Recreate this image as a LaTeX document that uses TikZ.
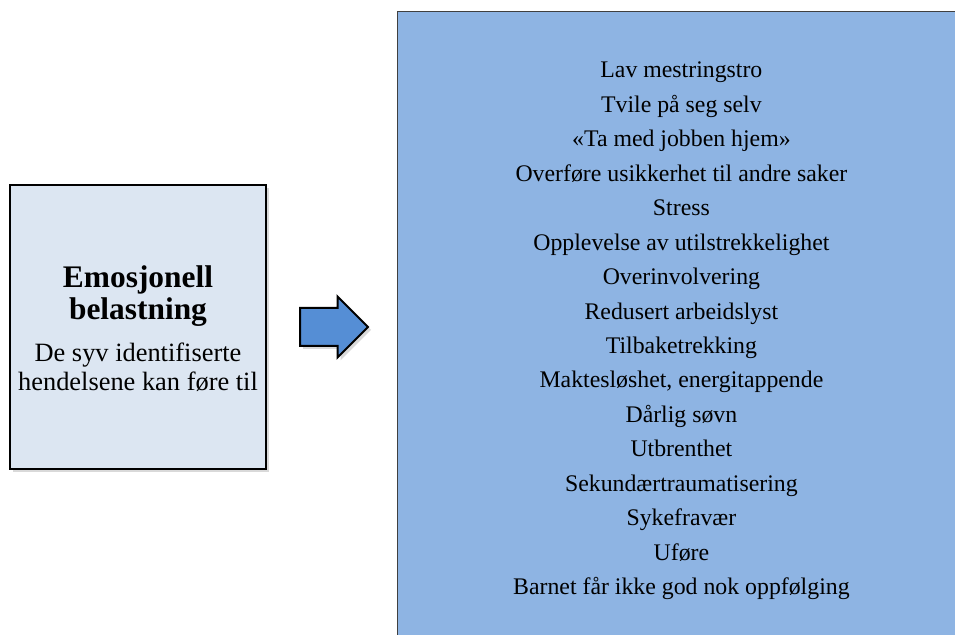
\documentclass[tikz,border=0pt]{standalone}
\usepackage{fontspec}
\setmainfont{Liberation Serif}
\usetikzlibrary{positioning,shadows,shapes.arrows}

\definecolor{palebox}{HTML}{DCE6F2}
\definecolor{listblue}{HTML}{8EB4E3}
\definecolor{arrowblue}{HTML}{558ED5}

\begin{document}
\begin{tikzpicture}[x=1pt, y=1pt, node distance=16pt,
    shade/.style={drop shadow={opacity=0.3, shadow xshift=1.5pt, shadow yshift=-1.5pt}},
    causebox/.style={draw=black, line width=1pt, fill=palebox, shade, minimum width=128pt, minimum height=142pt, inner sep=0pt},
    causetitle/.style={align=center, inner sep=0pt, font=\fontsize{15.7}{15.8}\selectfont\bfseries},
    causetext/.style={align=center, inner sep=0pt, font=\fontsize{13.2}{14.5}\selectfont},
    bigarrow/.style={single arrow, draw=black, line width=1pt, fill=arrowblue, shade, inner xsep=0pt, inner ysep=9pt, minimum height=34pt, minimum width=29.5pt, single arrow head extend=5.75pt},
    effectbox/.style={draw=black!75, line width=0.5pt, fill=listblue, minimum width=283.5pt, minimum height=315.5pt},
    effectlist/.style={align=center, inner sep=0pt, font=\fontsize{11.9}{17.23}\selectfont}]
    \clip (0,0) rectangle (477.5,-317.5);

    \node[causebox]                     (emo)    at (69,-163.5)            {};
    \node[causetitle]                   (title)  at ([yshift=15.5pt]emo.center)  {Emosjonell\\belastning};
    \node[causetext]                    (cause)  at ([yshift=-20.3pt]emo.center) {De syv identifiserte\\hendelsene kan føre til};

    \node[bigarrow, right=of emo]       (arrow)                            {};

    \node[effectbox, right=14pt of arrow] (effects) {};
    \node[effectlist] (list) at ([yshift=-2pt]effects.center) {Lav mestringstro\\
        Tvile på seg selv\\
        «Ta med jobben hjem»\\
        Overføre usikkerhet til andre saker\\
        Stress\\
        Opplevelse av utilstrekkelighet\\
        Overinvolvering\\
        Redusert arbeidslyst\\
        Tilbaketrekking\\
        Maktesløshet, energitappende\\
        Dårlig søvn\\
        Utbrenthet\\
        Sekundærtraumatisering\\
        Sykefravær\\
        Uføre\\
        Barnet får ikke god nok oppfølging};
\end{tikzpicture}
\end{document}
